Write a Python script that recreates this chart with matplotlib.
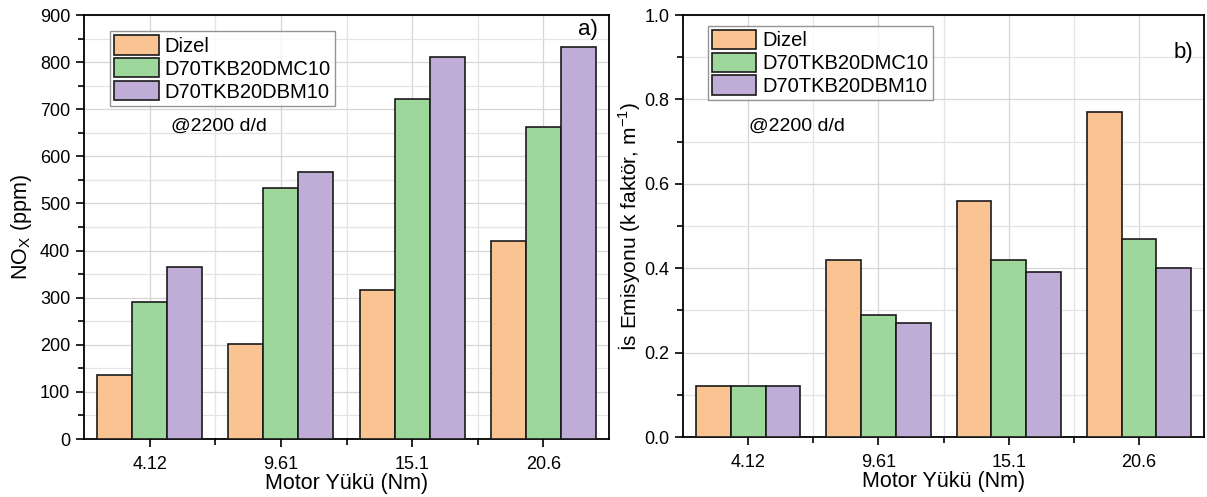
import numpy as np
import matplotlib
matplotlib.use("Agg")
import matplotlib.pyplot as plt
from matplotlib.ticker import MultipleLocator

# motor load categories and the three fuels
loads = ["4.12", "9.61", "15.1", "20.6"]
fuels = ["Dizel", "D70TKB20DMC10", "D70TKB20DBM10"]

# NOx (ppm)
nox_dizel = [136, 201, 317, 421]
nox_dmc = [291, 533, 722, 663]
nox_dbm = [365, 567, 812, 832]

# smoke opacity (k factor, 1/m)
smoke_dizel = [0.12, 0.42, 0.56, 0.77]
smoke_dmc = [0.12, 0.29, 0.42, 0.47]
smoke_dbm = [0.12, 0.27, 0.39, 0.40]

colors = ["#F9C491", "#9DD79B", "#BFADD7"]

plt.rcParams['font.family'] = ['Liberation Sans', 'DejaVu Sans']
plt.rcParams['font.size'] = 13

fig = plt.figure(figsize=(12.07, 4.97), dpi=100)
ax1 = fig.add_axes([0.0696, 0.1167, 0.435, 0.853])
ax2 = fig.add_axes([0.5659, 0.1207, 0.4317, 0.849])

x = np.arange(len(loads))
w = 0.8 / 3


def draw(ax, series, ylim, major, minor, anchor):
    for i, (vals, c, name) in enumerate(zip(series, colors, fuels)):
        ax.bar(x + (i - 1) * w, vals, w, color=c, edgecolor="#1a1a1a",
               linewidth=1.2, label=name, zorder=3)
    ax.set_xlim(-0.5, 3.5)
    ax.set_ylim(*ylim)
    ax.set_xticks(x)
    ax.set_xticklabels(loads)
    ax.set_xticks(x[:-1] + 0.5, minor=True)
    ax.yaxis.set_major_locator(MultipleLocator(major))
    ax.yaxis.set_minor_locator(MultipleLocator(minor))
    ax.grid(True, which="major", color="#d6d6d6", linewidth=0.9, zorder=0)
    ax.grid(True, which="minor", color="#e4e4e4", linewidth=0.9, zorder=0)
    ax.set_axisbelow(True)
    ax.tick_params(which="major", direction="out", length=6, width=1.2, labelsize=13)
    ax.tick_params(which="minor", direction="out", length=4, width=1.2)
    ax.tick_params(axis="x", which="major", pad=6)
    ax.tick_params(axis="y", which="major", pad=4)
    for s in ax.spines.values():
        s.set_linewidth(1.3)
        s.set_color("black")
    ax.set_xlabel("Motor Yükü (Nm)", fontsize=15.5, labelpad=0)
    leg = ax.legend(fontsize=14.5, frameon=True, fancybox=False, edgecolor="#7a7a7a",
                    handlelength=2.2, handleheight=1.1, labelspacing=0.12,
                    borderpad=0.2, handletextpad=0.3, borderaxespad=0,
                    loc="upper left", bbox_to_anchor=anchor)
    leg.get_frame().set_linewidth(1.0)
    return leg


draw(ax1, [nox_dizel, nox_dmc, nox_dbm], (0, 900), 100, 50, (0.05, 0.962))
ax1.set_ylabel("NO$_\\mathregular{X}$ (ppm)", fontsize=15.5, labelpad=4)
ax1.text(0.165, 0.728, "@2200 d/d", transform=ax1.transAxes, fontsize=14, zorder=5)
ax1.text(0.978, 0.99, "a)", transform=ax1.transAxes, fontsize=16, ha="right", va="top")

draw(ax2, [smoke_dizel, smoke_dmc, smoke_dbm], (0, 1.0), 0.2, 0.1, (0.048, 0.975))
ax2.set_ylabel("İs Emisyonu (k faktör, m$^{\\mathregular{-1}}$)", fontsize=15, labelpad=1)
ax2.text(0.127, 0.725, "@2200 d/d", transform=ax2.transAxes, fontsize=14, zorder=5)
ax2.text(0.98, 0.935, "b)", transform=ax2.transAxes, fontsize=16, ha="right", va="top")

fig.savefig("out.png", dpi=100)
